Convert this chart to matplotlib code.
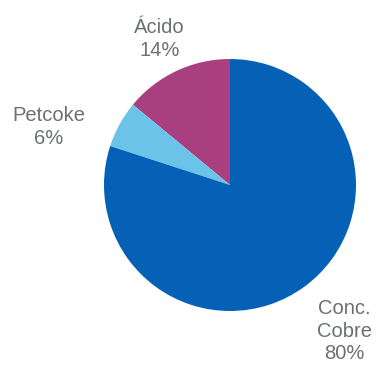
import matplotlib.pyplot as plt

# shares in %, drawn counter-clockwise from 12 o'clock
names = ["Ácido", "Petcoke", "Conc.\nCobre"]
shares = [14, 6, 80]
colors = ["#aa3f80", "#6bc3e9", "#0461b5"]

# label centres in pie-radius units (text positions only)
label_pos = [(-0.56, 1.16), (-1.44, 0.46), (0.91, -1.16)]

fig = plt.figure(figsize=(3.76, 3.68), dpi=100)
ax = fig.add_axes([0, 0, 1, 1])

r_px = 126
cx, cy = 230, 185
wedges, texts = ax.pie(shares, colors=colors, startangle=90, counterclock=True,
                       radius=1, labels=[f"{n}\n{s}%" for n, s in zip(names, shares)],
                       wedgeprops=dict(linewidth=0))

for t, (x, y) in zip(texts, label_pos):
    t.set_position((x, y))
    t.set_ha("center")
    t.set_va("center")
    t.set_fontsize(14.5)
    t.set_color("#6b7074")
    t.set_family(["Liberation Sans", "DejaVu Sans"])
    t.set_linespacing(1.25)

ax.set_xlim(-cx / r_px, (376 - cx) / r_px)
ax.set_ylim(-(368 - cy) / r_px, cy / r_px)
ax.set_aspect("auto")
ax.axis("off")

fig.savefig("out.png", dpi=100)
